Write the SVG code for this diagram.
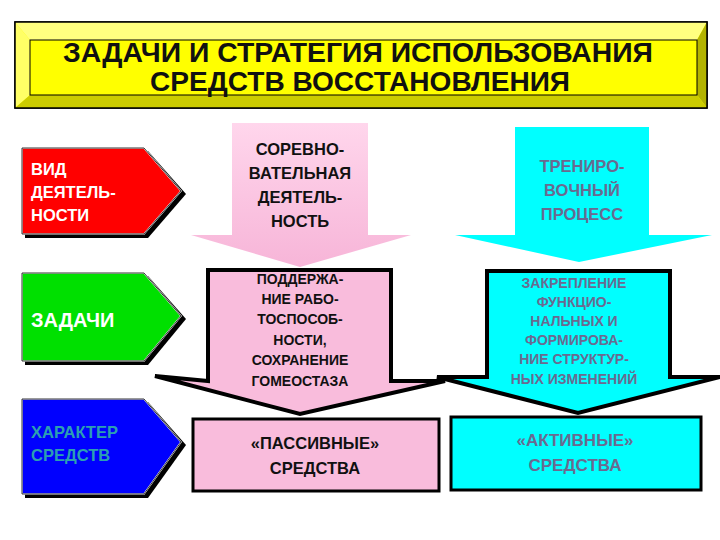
<svg xmlns="http://www.w3.org/2000/svg" width="720" height="540" viewBox="0 0 720 540">
<style>
text{font-family:"Liberation Sans",Arial,sans-serif;font-weight:bold;text-anchor:middle}
.t{font-size:16.5px;fill:#111}
.c{font-size:16.5px;fill:#6a6a90}
.s{font-size:14px;fill:#111}
.sc{font-size:14px;fill:#6a6a90}
.ol{stroke:#000;stroke-width:4;stroke-linejoin:miter}
.h{font-size:27px;fill:#111}
</style>
<defs>
<linearGradient id="pg" x1="0" y1="0" x2="0" y2="1"><stop offset="0" stop-color="#ffd6ec"/><stop offset="1" stop-color="#f7b5d8"/></linearGradient>
</defs>
<rect width="720" height="540" fill="#fff"/>
<g id="title">
<rect x="15" y="22" width="692" height="86" fill="#ffff00" stroke="#000" stroke-width="1.5"/>
<polygon points="15,22 707,22 697,40 30,40" fill="#ffff80"/>
<polygon points="15,22 30,40 30,95 15,108" fill="#ffff66"/>
<polygon points="707,22 697,40 697,95 707,108" fill="#b3b300"/>
<polygon points="15,108 30,95 697,95 707,108" fill="#cccc00"/>
<rect x="15" y="22" width="692" height="86" fill="none" stroke="#000" stroke-width="1.5"/>
<rect x="30" y="40" width="667" height="55" fill="none" stroke="#000" stroke-width="1"/>
<text x="358" y="62" class="h" textLength="590" lengthAdjust="spacingAndGlyphs">ЗАДАЧИ И СТРАТЕГИЯ ИСПОЛЬЗОВАНИЯ</text>
<text x="360" y="91" class="h" textLength="420" lengthAdjust="spacingAndGlyphs">СРЕДСТВ ВОССТАНОВЛЕНИЯ</text>
</g>
<g id="vid">
<polygon points="25,151 148,151 186,194 148,238 25,238" fill="#000"/>
<polygon points="22,148 144,148 181,191 144,234 22,234" fill="#ff0000" stroke="#fff" stroke-width="1.5"/>
<polygon points="22,148 144,148 181,191 144,234 22,234" fill="none" stroke="#000" stroke-width="0.8"/>
<text x="31" y="175" class="t" style="fill:#fff;text-anchor:start">ВИД</text>
<text x="31" y="198" class="t" style="fill:#fff;text-anchor:start">ДЕЯТЕЛЬ-</text>
<text x="31" y="221" class="t" style="fill:#fff;text-anchor:start">НОСТИ</text>
</g>
<g id="zadachi">
<polygon points="25,276 148,276 186,319 148,365 25,365" fill="#000"/>
<polygon points="22,273 144,273 181,316 144,361 22,361" fill="#00e000" stroke="#fff" stroke-width="1.5"/>
<polygon points="22,273 144,273 181,316 144,361 22,361" fill="none" stroke="#000" stroke-width="0.8"/>
<text x="31" y="327" style="font-size:20px;fill:#fff;text-anchor:start">ЗАДАЧИ</text>
</g>
<g id="harakter">
<polygon points="25,402 148,402 186,445 148,498 25,498" fill="#000"/>
<polygon points="22,399 144,399 181,442 144,494 22,494" fill="#0000ff" stroke="#fff" stroke-width="1.5"/>
<polygon points="22,399 144,399 181,442 144,494 22,494" fill="none" stroke="#000" stroke-width="0.8"/>
<text x="31" y="438" class="t" style="fill:#2ca0b0;text-anchor:start">ХАРАКТЕР</text>
<text x="31" y="461" class="t" style="fill:#2ca0b0;text-anchor:start">СРЕДСТВ</text>
</g>
<g id="sorevn">
<polygon points="232,123 368,123 368,235 411,235 300,267 191,235 232,235" fill="url(#pg)"/>
<text x="300" y="155" class="t">СОРЕВНО-</text>
<text x="300" y="179" class="t">ВАТЕЛЬНАЯ</text>
<text x="300" y="203" class="t">ДЕЯТЕЛЬ-</text>
<text x="300" y="227" class="t">НОСТЬ</text>
</g>
<g id="podderzh">
<polygon points="208,270 391,270 391,381 445,381 300,414 155,376 208,381" fill="#f9bcdc" class="ol"/>
<text x="300" y="284" class="s">ПОДДЕРЖА-</text>
<text x="300" y="304" class="s">НИЕ РАБО-</text>
<text x="300" y="324" class="s">ТОСПОСОБ-</text>
<text x="300" y="345" class="s">НОСТИ,</text>
<text x="300" y="365" class="s">СОХРАНЕНИЕ</text>
<text x="300" y="386" class="s">ГОМЕОСТАЗА</text>
</g>
<g id="passiv">
<rect x="193" y="419" width="246" height="72" fill="#f9bcdc" stroke="#000" stroke-width="3"/>
<text x="315" y="449" class="t">«ПАССИВНЫЕ»</text>
<text x="315" y="474" class="t">СРЕДСТВА</text>
</g>
<g id="trenir">
<polygon points="515,127 649,127 649,235 712,235 579,262 455,235 515,235" fill="#00ffff"/>
<text x="582" y="172" class="c">ТРЕНИРО-</text>
<text x="582" y="196" class="c">ВОЧНЫЙ</text>
<text x="582" y="220" class="c">ПРОЦЕСС</text>
</g>
<g id="zakrepl">
<polygon points="487,271 670,271 670,377 720,377 578,413 437,377 487,377" fill="#00ffff" class="ol"/>
<text x="574" y="288" class="sc">ЗАКРЕПЛЕНИЕ</text>
<text x="574" y="307" class="sc">ФУНКЦИО-</text>
<text x="574" y="326" class="sc">НАЛЬНЫХ И</text>
<text x="574" y="345" class="sc">ФОРМИРОВА-</text>
<text x="574" y="364" class="sc">НИЕ СТРУКТУР-</text>
<text x="574" y="384" class="sc">НЫХ ИЗМЕНЕНИЙ</text>
</g>
<g id="aktiv">
<rect x="451" y="417" width="250" height="73" fill="#00ffff" stroke="#000" stroke-width="3"/>
<text x="575" y="446" class="c" style="font-size:17px">«АКТИВНЫЕ»</text>
<text x="575" y="471" class="c" style="font-size:17px">СРЕДСТВА</text>
</g>
<g id="connectors"></g>
</svg>
